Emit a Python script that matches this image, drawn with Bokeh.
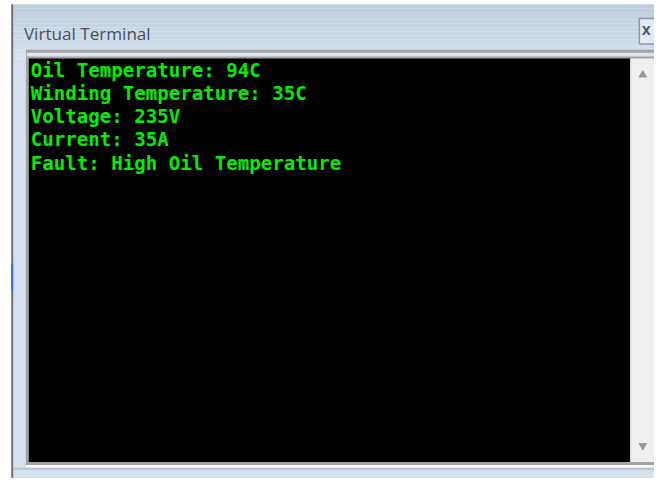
from bokeh.plotting import figure
from bokeh.models import Range1d
from bokeh.core.properties import value
from bokeh.embed import file_html
from bokeh.resources import INLINE

# ---- data: terminal content ----
window_title = "Virtual Terminal"
labels = ["Oil Temperature", "Winding Temperature", "Voltage", "Current", "Fault"]
readings = ["94C", "35C", "235V", "35A", "High Oil Temperature"]
lines = [f"{k}: {v}" for k, v in zip(labels, readings)]

# reference-pixel coordinate system (670 x 494) drawn into a 654 x 478 figure
W, H = 654, 478
S = W / 670.0
p = figure(width=W, height=H, output_backend="svg", toolbar_location=None,
           x_range=Range1d(0, 670), y_range=Range1d(494, 0),
           min_border=0, outline_line_color=None, background_fill_color="white",
           border_fill_color="white")
p.axis.visible = False
p.grid.visible = False

# window frame with title-bar gradient
c0 = (190, 204, 219)
c1 = (214, 226, 239)
n = 14
for i in range(n):
    t = i / (n - 1)
    col = "#%02x%02x%02x" % tuple(int(a + (b - a) * t) for a, b in zip(c0, c1))
    p.quad(left=12, right=670, top=4 + i * 4, bottom=4 + (i + 1) * 4,
           fill_color=col, line_color=None)
p.quad(left=12, right=670, top=60, bottom=494, fill_color="#d5e1ee", line_color=None)
# left dark edge
p.quad(left=11, right=13, top=4, bottom=494, fill_color="#6f6f6f", line_color=None)
p.quad(left=11, right=13, top=272, bottom=300, fill_color="#3a78c8", line_color=None)

# terminal frame
p.quad(left=26, right=670, top=51, bottom=481, fill_color="#a3a3a3", line_color=None)
p.quad(left=27, right=670, top=54, bottom=58, fill_color="#dfe3e8", line_color=None)
p.quad(left=29, right=645, top=60, bottom=477, fill_color="black", line_color=None)
# scrollbar
p.quad(left=646, right=670, top=60, bottom=477, fill_color="#f0f0f0", line_color=None)
p.quad(left=645, right=646, top=60, bottom=477, fill_color="#d8d8d8", line_color=None)
p.scatter(x=[658], y=[77], marker="triangle", size=9, fill_color="#9a9a9a", line_color=None)
p.scatter(x=[658], y=[460], marker="inverted_triangle", size=9, fill_color="#9a9a9a", line_color=None)
# bottom edge lines
p.quad(left=26, right=670, top=480, bottom=483, fill_color="#ffffff", line_color=None)
p.quad(left=13, right=670, top=483, bottom=485, fill_color="#b9c3ce", line_color=None)

# close button
p.quad(left=654.5, right=672, top=18.5, bottom=45, fill_color="#e4eaf2",
       line_color="#8a98b4", line_width=1.5)
p.text(x=[657], y=[32], text=["X"], text_font=value("DejaVu Sans"),
       text_font_size="%.1fpx" % (12 * S), text_font_style="bold",
       text_color="#505a6a", text_baseline="middle", text_align="left")

# title
p.text(x=[24], y=[34], text=[window_title], text_font=value("Open Sans"),
       text_font_size="%.1fpx" % (17.5 * S), text_color="#4b4f5c",
       text_baseline="middle")

# terminal text
ys = [72 + 24 * i for i in range(len(lines))]
p.text(x=[31] * len(lines), y=ys, text=lines, text_font=value("DejaVu Sans Mono"),
       text_font_size="%.1fpx" % (19.6 * S), text_font_style="bold",
       text_color="#00ee00", text_baseline="middle", text_align="left")

open("out.html", "w").write(file_html(p, INLINE))
